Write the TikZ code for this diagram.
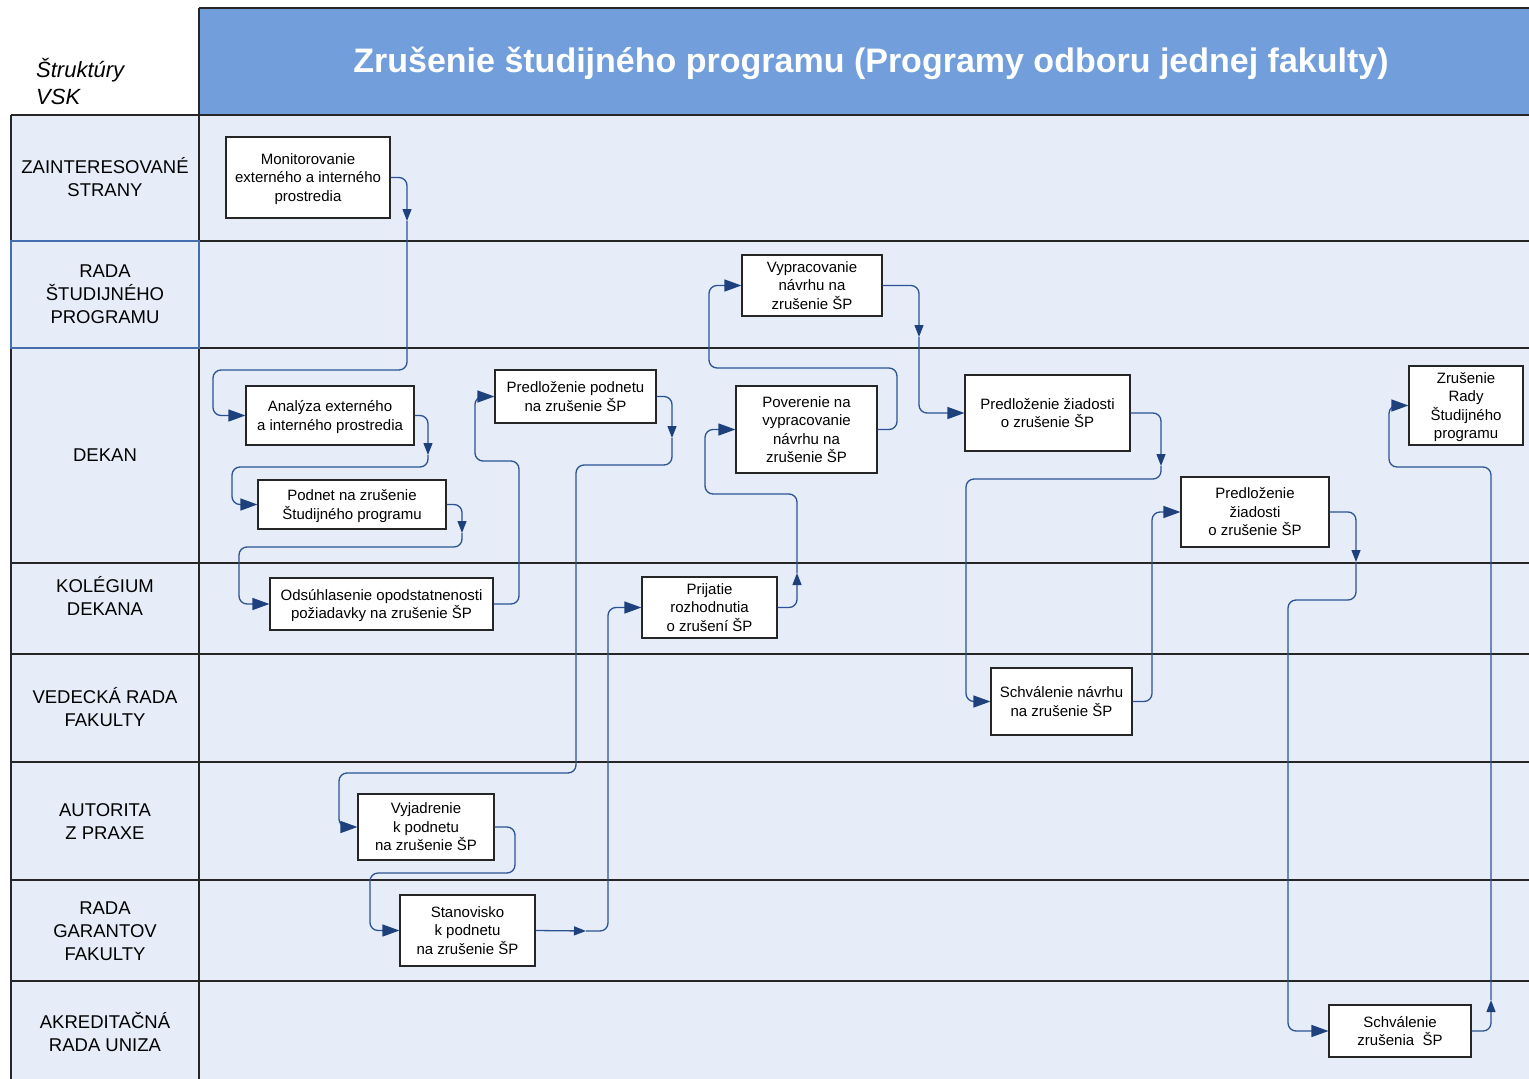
\documentclass[tikz,border=0pt]{standalone}
\usepackage{fontspec}
\setmainfont{Liberation Sans}
\usetikzlibrary{arrows.meta}
\definecolor{lanefill}{RGB}{230,237,248}
\definecolor{titlefill}{RGB}{114,159,220}
\definecolor{conn}{RGB}{44,82,148}
\definecolor{arrowcol}{RGB}{30,65,125}
\definecolor{lanehdblue}{RGB}{70,110,175}
\begin{document}
\begin{tikzpicture}[x=1pt,y=-1pt,
  box/.style={draw=black!85, line width=1.1pt, fill=white, inner sep=0pt, align=center, font=\fontsize{15}{18.5}\selectfont, text depth=0pt},
  lanelbl/.style={align=center, font=\fontsize{18.5}{23}\selectfont},
  lanerule/.style={line width=1.4pt, draw=black!85},
  flow/.style={draw=conn, line width=1.3pt, rounded corners=8pt},
  endarr/.style={-{Triangle[length=17pt,width=12pt,color=arrowcol]}},
  midarr/.style={-{Triangle[length=12pt,width=9pt,color=arrowcol]}},
]
\useasboundingbox (0,0) rectangle (1529,1079);
% backgrounds
\fill[lanefill] (11,115) rectangle (1529,1079);
\fill[titlefill] (199,8) rectangle (1529,115);
% lane rules
\draw[lanerule] (199,8) -- (1529,8);
\draw[lanerule] (199,8) -- (199,1079);
\draw[lanerule] (11,115) -- (1529,115);
\draw[lanerule] (11,115) -- (11,1079);
\foreach \yy in {241,348,563,654,762,880,981}{
  \draw[lanerule] (11,\yy) -- (1529,\yy);
}
\draw[lanehdblue, line width=1.4pt] (11,241) rectangle (199,348);
% header texts
\node[font=\fontsize{34}{40}\selectfont\bfseries, text=white] (title) at (871,63) {Zrušenie študijného programu (Programy odboru jednej fakulty)};
\node[anchor=west, align=left, font=\fontsize{22}{27}\selectfont\itshape, inner sep=0pt] (vsk) at (36,81) {Štruktúry\\VSK};
% lane labels
\node[lanelbl] (l1) at (105,177) {ZAINTERESOVANÉ\\STRANY};
\node[lanelbl] (l2) at (105,294) {RADA\\ŠTUDIJNÉHO\\PROGRAMU};
\node[lanelbl] (l3) at (105,455) {DEKAN};
\node[lanelbl] (l4) at (105,595.5) {KOLÉGIUM\\DEKANA};
\node[lanelbl] (l5) at (105,707.5) {VEDECKÁ RADA\\FAKULTY};
\node[lanelbl] (l6) at (105,822) {AUTORITA\\Z PRAXE};
\node[lanelbl] (l7) at (105,931) {RADA\\GARANTOV\\FAKULTY};
\node[lanelbl] (l8) at (105,1031.5) {AKREDITAČNÁ\\RADA UNIZA};
% process boxes
\node[box, minimum width=164pt, minimum height=81pt] (mon) at (308,177.5) {Monitorovanie\\externého a interného\\prostredia};
\node[box, minimum width=168pt, minimum height=59pt] (ana) at (330,415.5) {Analýza externého\\a interného prostredia};
\node[box, minimum width=188pt, minimum height=49pt] (pod) at (352,504.5) {Podnet na zrušenie\\Študijného programu};
\node[box, minimum width=223pt, minimum height=52pt] (ods) at (381.5,604) {Odsúhlasenie opodstatnenosti\\požiadavky na zrušenie ŠP};
\node[box, minimum width=161pt, minimum height=53pt] (ppod) at (575.5,396.5) {Predloženie podnetu\\na zrušenie ŠP};
\node[box, minimum width=136pt, minimum height=66pt] (vyj) at (426,827) {Vyjadrenie\\k podnetu\\na zrušenie ŠP};
\node[box, minimum width=135pt, minimum height=71pt] (stan) at (467.5,930.5) {Stanovisko\\k podnetu\\na zrušenie ŠP};
\node[box, minimum width=135pt, minimum height=61pt] (prij) at (709.5,607.5) {Prijatie\\rozhodnutia\\o zrušení ŠP};
\node[box, minimum width=141pt, minimum height=87pt] (pov) at (806.5,429.5) {Poverenie na\\vypracovanie\\návrhu na\\zrušenie ŠP};
\node[box, minimum width=140pt, minimum height=61pt] (vyp) at (812,285.5) {Vypracovanie\\návrhu na\\zrušenie ŠP};
\node[box, minimum width=165pt, minimum height=76pt] (pzia) at (1047.5,413) {Predloženie žiadosti\\o zrušenie ŠP};
\node[box, minimum width=141pt, minimum height=67pt] (schn) at (1061.5,701.5) {Schválenie návrhu\\na zrušenie ŠP};
\node[box, minimum width=148pt, minimum height=70pt] (pzib) at (1255,512) {Predloženie\\žiadosti\\o zrušenie ŠP};
\node[box, minimum width=142pt, minimum height=52pt] (schz) at (1400,1031) {Schválenie\\zrušenia\ \ ŠP};
\node[box, minimum width=114pt, minimum height=79pt] (zrus) at (1466,405.5) {Zrušenie\\Rady\\Študijného\\programu};
% mid-arrow points
\coordinate (k1) at (407,221);
\coordinate (k2) at (428,455);
\coordinate (k3) at (462,533);
\coordinate (k5) at (672,438);
\coordinate (k7) at (586,931);
\coordinate (k8) at (797,573);
\coordinate (k10) at (919,337);
\coordinate (k11) at (1161,466);
\coordinate (k13) at (1356,562);
\coordinate (k14) at (1491,1000);
% connectors
\draw[flow, midarr] (mon.east) -| (k1);
\draw[flow, endarr] (k1) |- (213,370) |- (ana.west);
\draw[flow, midarr] (ana.east) -| (k2);
\draw[flow, endarr] (k2) |- (232,467) |- (pod.west);
\draw[flow, midarr] (pod.east) -| (k3);
\draw[flow, endarr] (k3) |- (239,547) |- (ods.west);
\draw[flow, endarr] (ods.east) -| (519,461) -- (475,461) |- (ppod.west);
\draw[flow, midarr] (ppod.east) -| (k5);
\draw[flow, endarr] (k5) |- (576,465) |- (339,773) |- (vyj.west);
\draw[flow, endarr] (vyj.east) -| (515,873) -- (370,873) |- (stan.west);
\draw[flow, midarr] (stan.east) -- (k7);
\draw[flow, endarr] (k7) -| (608,607.5) -- (prij.west);
\draw[flow, midarr] (prij.east) -| (k8);
\draw[flow, endarr] (k8) |- (705,494) |- (pov.west);
\draw[flow, endarr] (pov.east) -| (897,368) -- (709,368) |- (vyp.west);
\draw[flow, midarr] (vyp.east) -| (k10);
\draw[flow, endarr] (k10) |- (pzia.west);
\draw[flow, midarr] (pzia.east) -| (k11);
\draw[flow, endarr] (k11) |- (966,479) |- (schn.west);
\draw[flow, endarr] (schn.east) -- (1152,701.5) |- (pzib.west);
\draw[flow, midarr] (pzib.east) -| (k13);
\draw[flow, endarr] (k13) |- (1288,600) |- (schz.west);
\draw[flow, midarr] (schz.east) -| (k14);
\draw[flow, endarr] (k14) |- (1389,467) |- (zrus.west);
\end{tikzpicture}
\end{document}
